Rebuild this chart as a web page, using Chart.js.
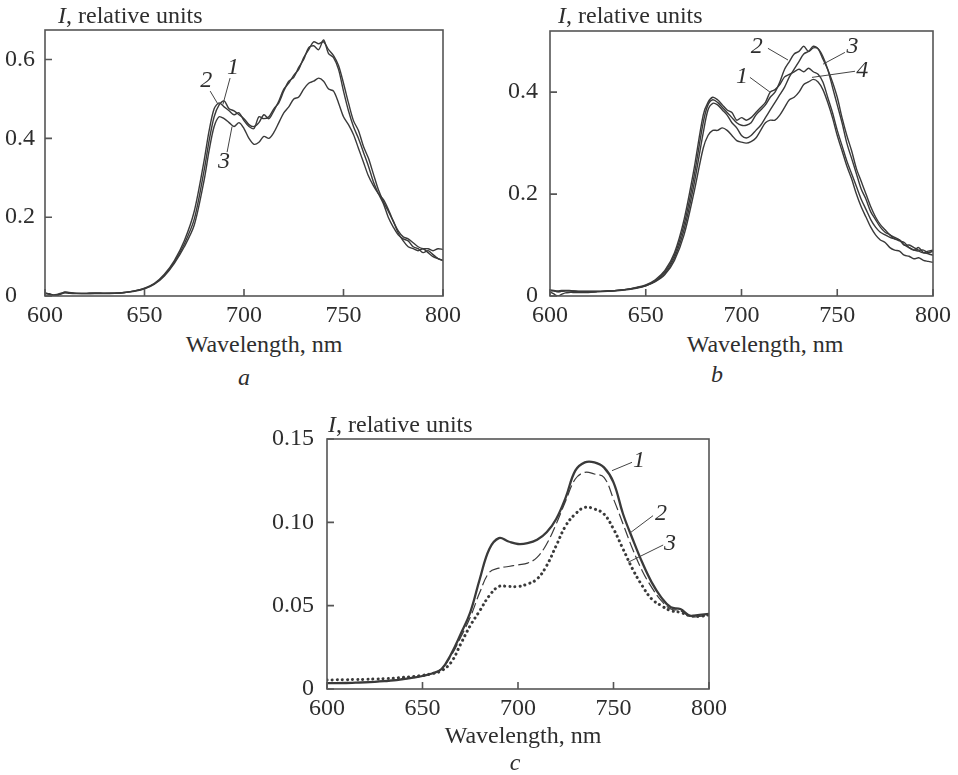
<!DOCTYPE html>
<html>
<head>
<meta charset="utf-8">
<script src="https://cdn.jsdelivr.net/npm/chart.js@4.4.1/dist/chart.umd.min.js"></script>
<style>
  body { margin: 0; background: #fff; width: 958px; height: 775px; position: relative; overflow: hidden; }
  canvas { position: absolute; }
  .txt { position: absolute; font-family: "Liberation Serif", serif; font-size: 24px; line-height: 24px; color: #2e2e2e; white-space: nowrap; }
  .ctr { transform: translateX(-50%); }
</style>
</head>
<body>
<canvas id="chart-a" width="470" height="330" style="left:0;top:0"></canvas>
<canvas id="chart-b" width="468" height="330" style="left:490px;top:0"></canvas>
<canvas id="chart-c" width="490" height="330" style="left:250px;top:400px"></canvas>

<div class="txt" style="left:58px;top:3px"><i>I</i>, relative units</div>
<div class="txt" style="left:558px;top:3px"><i>I</i>, relative units</div>
<div class="txt" style="left:328px;top:412px"><i>I</i>, relative units</div>
<div class="txt ctr" style="left:264px;top:332px">Wavelength, nm</div>
<div class="txt ctr" style="left:765px;top:332px">Wavelength, nm</div>
<div class="txt ctr" style="left:523px;top:723px">Wavelength, nm</div>
<div class="txt ctr" style="left:244px;top:365px"><i>a</i></div>
<div class="txt ctr" style="left:717px;top:362px"><i>b</i></div>
<div class="txt ctr" style="left:515px;top:750px"><i>c</i></div>

<script>
// wavelengths for panels a and b (nm)
const wlAB = [600, 602, 604, 606, 608, 610, 612, 615, 620, 625, 630, 635, 640, 645, 650, 655, 660, 665, 670, 675,
  680, 682.5, 685, 687.5, 690, 692.5, 695, 697.5, 700, 702.5, 705, 707.5, 710, 712.5, 715, 717.5, 720, 722.5,
  725, 727.5, 730, 732.5, 735, 737.5, 740, 742.5, 745, 747.5, 750, 752.5, 755, 757.5, 760, 762.5, 765, 767.5,
  770, 772.5, 775, 777.5, 780, 782.5, 785, 787.5, 790, 792.5, 795, 797.5, 800];

// panel a
const a1 = [0.007, 0.006, 0.003, 0.004, 0.007, 0.009, 0.008, 0.007, 0.006, 0.007, 0.007, 0.007, 0.009, 0.013, 0.019, 0.031, 0.053, 0.086, 0.132, 0.195,
  0.32, 0.395, 0.455, 0.485, 0.495, 0.475, 0.47, 0.46, 0.45, 0.435, 0.43, 0.44, 0.46, 0.45, 0.47, 0.495, 0.525, 0.54,
  0.56, 0.575, 0.605, 0.625, 0.645, 0.64, 0.645, 0.625, 0.61, 0.585, 0.54, 0.49, 0.445, 0.42, 0.38, 0.35, 0.31, 0.27,
  0.24, 0.215, 0.19, 0.165, 0.15, 0.145, 0.135, 0.125, 0.12, 0.12, 0.115, 0.12, 0.118];
const a2 = [0.008, 0.005, 0.002, 0.002, 0.006, 0.010, 0.009, 0.007, 0.007, 0.008, 0.007, 0.007, 0.009, 0.013, 0.020, 0.032, 0.055, 0.09, 0.14, 0.215,
  0.345, 0.42, 0.475, 0.49, 0.48, 0.47, 0.46, 0.465, 0.445, 0.43, 0.425, 0.455, 0.45, 0.455, 0.475, 0.49, 0.52, 0.545,
  0.555, 0.58, 0.60, 0.63, 0.635, 0.625, 0.65, 0.615, 0.605, 0.575, 0.52, 0.47, 0.43, 0.40, 0.365, 0.33, 0.29, 0.26,
  0.235, 0.20, 0.175, 0.155, 0.145, 0.14, 0.125, 0.12, 0.11, 0.115, 0.105, 0.095, 0.09];
const a3 = [0.006, 0.005, 0.001, 0.001, 0.005, 0.008, 0.007, 0.006, 0.006, 0.006, 0.006, 0.007, 0.009, 0.012, 0.018, 0.03, 0.051, 0.083, 0.125, 0.18,
  0.295, 0.37, 0.43, 0.455, 0.45, 0.44, 0.43, 0.44, 0.425, 0.40, 0.385, 0.39, 0.405, 0.40, 0.415, 0.44, 0.465, 0.48,
  0.50, 0.505, 0.525, 0.54, 0.545, 0.553, 0.545, 0.525, 0.52, 0.49, 0.455, 0.435, 0.41, 0.375, 0.34, 0.305, 0.28, 0.26,
  0.245, 0.22, 0.19, 0.16, 0.14, 0.125, 0.12, 0.115, 0.12, 0.11, 0.1, 0.095, 0.09];

// panel b
const b1 = [0.012, 0.011, 0.01, 0.011, 0.011, 0.011, 0.01, 0.009, 0.009, 0.009, 0.01, 0.011, 0.013, 0.017, 0.022, 0.032, 0.05, 0.085, 0.15, 0.245,
  0.355, 0.38, 0.39, 0.385, 0.375, 0.365, 0.36, 0.345, 0.35, 0.345, 0.35, 0.36, 0.37, 0.38, 0.40, 0.405, 0.415, 0.43,
  0.435, 0.44, 0.445, 0.44, 0.447, 0.44, 0.435, 0.42, 0.39, 0.36, 0.325, 0.295, 0.265, 0.24, 0.215, 0.19, 0.17, 0.15,
  0.135, 0.125, 0.12, 0.115, 0.112, 0.108, 0.105, 0.095, 0.09, 0.095, 0.085, 0.083, 0.08];
const b2 = [0.01, 0.01, 0.008, 0.009, 0.01, 0.01, 0.009, 0.009, 0.009, 0.009, 0.01, 0.011, 0.013, 0.016, 0.021, 0.03, 0.047, 0.08, 0.14, 0.23,
  0.34, 0.375, 0.385, 0.38, 0.37, 0.36, 0.35, 0.34, 0.335, 0.335, 0.34, 0.355, 0.365, 0.375, 0.39, 0.40, 0.42, 0.445,
  0.46, 0.475, 0.48, 0.49, 0.48, 0.487, 0.485, 0.47, 0.445, 0.41, 0.375, 0.34, 0.3, 0.27, 0.24, 0.21, 0.19, 0.165,
  0.15, 0.135, 0.125, 0.12, 0.112, 0.11, 0.1, 0.095, 0.09, 0.088, 0.085, 0.088, 0.09];
const b3 = [0.008, 0.004, 0.0, 0.003, 0.006, 0.007, 0.007, 0.007, 0.007, 0.008, 0.009, 0.01, 0.012, 0.015, 0.02, 0.029, 0.044, 0.075, 0.13, 0.215,
  0.32, 0.365, 0.378, 0.375, 0.365, 0.355, 0.34, 0.33, 0.315, 0.31, 0.315, 0.325, 0.335, 0.35, 0.365, 0.38, 0.395, 0.41,
  0.43, 0.445, 0.46, 0.475, 0.48, 0.49, 0.485, 0.465, 0.445, 0.42, 0.39, 0.35, 0.315, 0.285, 0.25, 0.225, 0.2, 0.175,
  0.155, 0.14, 0.13, 0.12, 0.115, 0.11, 0.1, 0.1, 0.095, 0.09, 0.09, 0.085, 0.088];
const b4 = [0.011, 0.01, 0.009, 0.009, 0.01, 0.01, 0.01, 0.009, 0.009, 0.009, 0.01, 0.011, 0.013, 0.016, 0.02, 0.028, 0.042, 0.07, 0.12, 0.2,
  0.29, 0.315, 0.325, 0.325, 0.33, 0.325, 0.315, 0.305, 0.302, 0.3, 0.303, 0.31, 0.325, 0.34, 0.345, 0.345, 0.355, 0.37,
  0.385, 0.39, 0.40, 0.415, 0.42, 0.425, 0.42, 0.405, 0.38, 0.35, 0.315, 0.285, 0.255, 0.23, 0.2, 0.175, 0.155, 0.135,
  0.12, 0.11, 0.105, 0.095, 0.09, 0.088, 0.08, 0.078, 0.073, 0.075, 0.07, 0.068, 0.066];

// panel c
const wlC = [600, 605, 610, 615, 620, 625, 630, 635, 640, 645, 650, 655, 660, 665, 670, 675, 680, 685, 690, 695, 700,
  705, 710, 715, 720, 725, 730, 735, 740, 745, 750, 755, 760, 765, 770, 775, 780, 785, 790, 795, 800];
const c1 = [0.0035, 0.0035, 0.0036, 0.0038, 0.004, 0.0043, 0.0047, 0.0052, 0.006, 0.0068, 0.0078, 0.0093, 0.012, 0.021, 0.033, 0.046, 0.066, 0.084, 0.0905, 0.0885, 0.087,
  0.0875, 0.0895, 0.094, 0.102, 0.115, 0.131, 0.136, 0.136, 0.133, 0.124, 0.105, 0.09, 0.076, 0.064, 0.055, 0.049, 0.048, 0.044, 0.0445, 0.045];
const c2 = [0.0035, 0.0036, 0.0037, 0.0039, 0.0041, 0.0044, 0.0048, 0.0053, 0.006, 0.0068, 0.0078, 0.0093, 0.012, 0.02, 0.031, 0.043, 0.058, 0.07, 0.0725, 0.0735, 0.0745,
  0.0755, 0.079, 0.087, 0.099, 0.113, 0.126, 0.13, 0.129, 0.127, 0.114, 0.099, 0.084, 0.071, 0.061, 0.053, 0.048, 0.047, 0.0435, 0.0435, 0.0445];
const c3 = [0.0054, 0.0055, 0.0056, 0.0057, 0.0058, 0.006, 0.0062, 0.0065, 0.007, 0.0075, 0.0082, 0.0092, 0.011, 0.016, 0.027, 0.038, 0.047, 0.056, 0.0615, 0.0615, 0.0615,
  0.063, 0.066, 0.074, 0.086, 0.098, 0.105, 0.109, 0.108, 0.105, 0.096, 0.084, 0.072, 0.062, 0.054, 0.05, 0.047, 0.046, 0.044, 0.0435, 0.0445];

// curve number labels: text position and leader line, in data units
const notesA = [
  { text: "1", at: [694.5, 0.58], from: [693, 0.553], to: [689.4, 0.486] },
  { text: "2", at: [681, 0.547], from: [683, 0.52], to: [687, 0.486] },
  { text: "3", at: [690, 0.34], from: [691.5, 0.365], to: [694, 0.43] },
];
const notesB = [
  { text: "2", at: [708, 0.49], from: [713.8, 0.486], to: [724.3, 0.463] },
  { text: "1", at: [700.3, 0.431], from: [704.4, 0.429], to: [714.9, 0.40] },
  { text: "3", at: [758, 0.49], from: [754, 0.478], to: [742.6, 0.455] },
  { text: "4", at: [763, 0.443], from: [759.3, 0.441], to: [736.8, 0.429] },
];
const notesC = [
  { text: "1", at: [763.4, 0.137], from: [759.7, 0.136], to: [749.2, 0.131] },
  { text: "2", at: [774.9, 0.105], from: [770.7, 0.104], to: [758.6, 0.0936] },
  { text: "3", at: [779.6, 0.087], from: [776, 0.0864], to: [757.6, 0.076] },
];

const INK = "#2e2e2e";
const LINE = "#3a3a3a";
const serif = "Liberation Serif";

const framePlugin = {
  id: "frame",
  afterDatasetsDraw(chart, args, opts) {
    const { ctx, chartArea: a, scales } = chart;
    const x = scales.x, y = scales.y;
    ctx.save();
    ctx.strokeStyle = "#555";
    ctx.lineWidth = 1.6;
    ctx.strokeRect(a.left, a.top, a.right - a.left, a.bottom - a.top);
    ctx.beginPath();
    x.ticks.forEach((t, i) => {
      const px = x.getPixelForTick(i);
      ctx.moveTo(px, a.bottom);
      ctx.lineTo(px, a.bottom - 7);
    });
    y.ticks.forEach((t, i) => {
      const py = y.getPixelForTick(i);
      ctx.moveTo(a.left, py);
      ctx.lineTo(a.left + 7, py);
    });
    ctx.stroke();

    ctx.lineWidth = 1;
    ctx.strokeStyle = "#444";
    ctx.fillStyle = INK;
    ctx.font = `italic 24px "${serif}"`;
    ctx.textAlign = "center";
    ctx.textBaseline = "middle";
    (opts.notes || []).forEach((n) => {
      ctx.beginPath();
      ctx.moveTo(x.getPixelForValue(n.from[0]), y.getPixelForValue(n.from[1]));
      ctx.lineTo(x.getPixelForValue(n.to[0]), y.getPixelForValue(n.to[1]));
      ctx.stroke();
      ctx.fillText(n.text, x.getPixelForValue(n.at[0]), y.getPixelForValue(n.at[1]));
    });
    ctx.restore();
  },
};

function series(xs, ys, extra) {
  return Object.assign(
    {
      data: xs.map((x, i) => ({ x, y: ys[i] })),
      borderColor: LINE,
      borderWidth: 1.4,
      pointRadius: 0,
      tension: 0.3,
      fill: false,
    },
    extra || {}
  );
}

function renderPanel(id, datasets, cfg) {
  const ctx = document.getElementById(id);
  new Chart(ctx, {
    type: "line",
    data: { datasets },
    plugins: [framePlugin],
    options: {
      responsive: false,
      animation: false,
      devicePixelRatio: 1,
      layout: { padding: cfg.padding },
      plugins: { legend: { display: false }, tooltip: { enabled: false }, frame: { notes: cfg.notes } },
      scales: {
        x: {
          type: "linear",
          min: 600,
          max: 800,
          afterFit: (s) => { s.height = cfg.xHeight; },
          grid: { display: false, drawTicks: false },
          border: { display: false },
          ticks: { stepSize: 50, padding: cfg.xPad, color: INK, font: { family: serif, size: 24 }, maxRotation: 0 },
        },
        y: {
          min: 0,
          max: cfg.ymax,
          afterFit: (s) => { s.width = cfg.yWidth; },
          grid: { display: false, drawTicks: false },
          border: { display: false },
          ticks: {
            stepSize: cfg.ystep,
            includeBounds: false,
            padding: cfg.yPad,
            crossAlign: cfg.crossAlign,
            color: INK,
            font: { family: serif, size: 24 },
            callback: (v) => (Math.abs(v) < 1e-9 ? "0" : v.toFixed(cfg.decimals)),
          },
        },
      },
    },
  });
}

renderPanel("chart-a", [series(wlAB, a1), series(wlAB, a2), series(wlAB, a3)], {
  padding: { left: 5, top: 30, right: 27, bottom: 0 },
  xHeight: 34, yWidth: 40, xPad: 5, yPad: 10, crossAlign: "far",
  ymax: 0.675, ystep: 0.2, decimals: 1, notes: notesA,
});

renderPanel("chart-b", [series(wlAB, b1), series(wlAB, b2), series(wlAB, b3), series(wlAB, b4)], {
  padding: { left: 0, top: 31, right: 25, bottom: 0 },
  xHeight: 34, yWidth: 60, xPad: 5, yPad: 12, crossAlign: "near",
  ymax: 0.52, ystep: 0.2, decimals: 1, notes: notesB,
});

renderPanel("chart-c", [
  series(wlC, c1, { borderWidth: 2.3, tension: 0.4 }),
  series(wlC, c2, { borderWidth: 1.2, tension: 0.4, borderDash: [11, 4] }),
  series(wlC, c3, { borderWidth: 3, tension: 0.4, borderDash: [0.1, 5], borderCapStyle: "round" }),
], {
  padding: { left: 0, top: 39, right: 31, bottom: 0 },
  xHeight: 41, yWidth: 77, xPad: 5, yPad: 13, crossAlign: "near",
  ymax: 0.15, ystep: 0.05, decimals: 2, notes: notesC,
});
</script>
</body>
</html>
